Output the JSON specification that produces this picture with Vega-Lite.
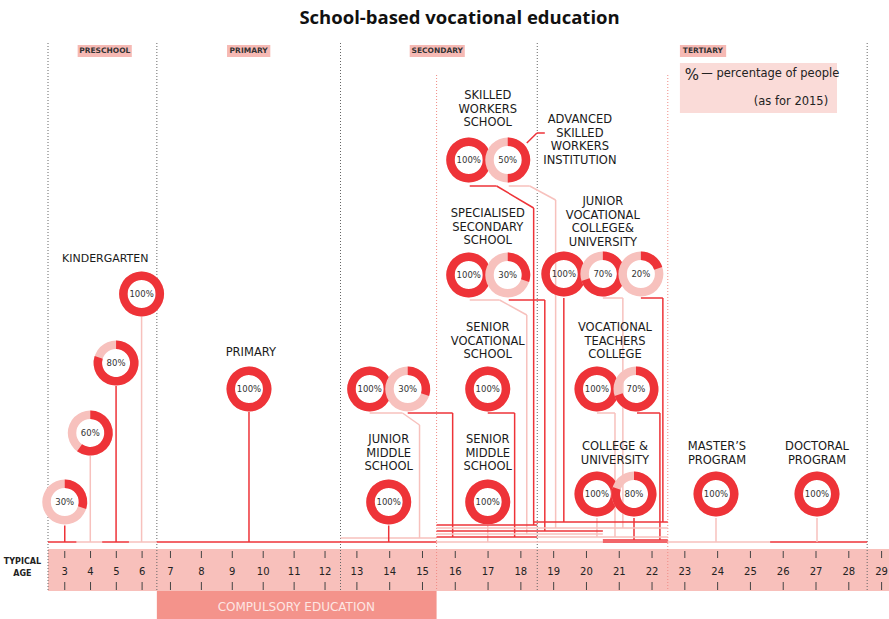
{
  "$schema": "https://vega.github.io/schema/vega-lite/v6.json",
  "width": 889,
  "height": 619,
  "autosize": "none",
  "padding": 0,
  "background": "white",
  "config": {"view": {"stroke": null}, "axis": {"disable": true}, "legend": {"disable": true}},
  "datasets": {
    "ages": [{"age":3},{"age":4},{"age":5},{"age":6},{"age":7},{"age":8},{"age":9},{"age":10},{"age":11},{"age":12},{"age":13},{"age":14},{"age":15},{"age":16},{"age":17},{"age":18},{"age":19},{"age":20},{"age":21},{"age":22},{"age":23},{"age":24},{"age":25},{"age":26},{"age":27},{"age":28},{"age":29}],
    "donuts": [
      {"name":"Kindergarten age 3","age":3.0,"lvl":8.0,"pink":100,"red":30,"lab":"30%"},
      {"name":"Kindergarten age 4","age":3.99,"lvl":21.8,"pink":100,"red":60,"lab":"60%"},
      {"name":"Kindergarten age 5","age":4.99,"lvl":35.8,"pink":100,"red":80,"lab":"80%"},
      {"name":"Kindergarten age 6","age":5.98,"lvl":49.6,"pink":100,"red":100,"lab":"100%"},
      {"name":"Primary","age":9.54,"lvl":30.6,"pink":100,"red":100,"lab":"100%"},
      {"name":"Junior secondary A","age":13.39,"lvl":30.6,"pink":100,"red":100,"lab":"100%"},
      {"name":"Junior secondary B","age":14.55,"lvl":30.6,"pink":100,"red":30,"lab":"30%"},
      {"name":"Junior middle school","age":13.97,"lvl":8.0,"pink":100,"red":100,"lab":"100%"},
      {"name":"Senior vocational school","age":16.99,"lvl":30.6,"pink":100,"red":100,"lab":"100%"},
      {"name":"Senior middle school","age":16.99,"lvl":8.0,"pink":100,"red":100,"lab":"100%"},
      {"name":"Skilled workers school","age":16.41,"lvl":76.4,"pink":100,"red":100,"lab":"100%"},
      {"name":"Advanced skilled workers institution","age":17.6,"lvl":76.4,"pink":100,"red":50,"lab":"50%"},
      {"name":"Specialised secondary school A","age":16.41,"lvl":53.4,"pink":100,"red":100,"lab":"100%"},
      {"name":"Specialised secondary school B","age":17.6,"lvl":53.4,"pink":100,"red":30,"lab":"30%"},
      {"name":"Junior vocational college A","age":19.31,"lvl":53.6,"pink":100,"red":100,"lab":"100%"},
      {"name":"Junior vocational college B","age":20.5,"lvl":53.6,"pink":100,"red":70,"lab":"70%"},
      {"name":"Junior vocational college C","age":21.66,"lvl":53.6,"pink":100,"red":20,"lab":"20%"},
      {"name":"Vocational teachers college A","age":20.32,"lvl":30.6,"pink":100,"red":100,"lab":"100%"},
      {"name":"Vocational teachers college B","age":21.51,"lvl":30.6,"pink":100,"red":70,"lab":"70%"},
      {"name":"College & university A","age":20.32,"lvl":9.6,"pink":100,"red":100,"lab":"100%"},
      {"name":"College & university B","age":21.45,"lvl":9.6,"pink":100,"red":80,"lab":"80%"},
      {"name":"Master's program","age":23.95,"lvl":9.6,"pink":100,"red":100,"lab":"100%"},
      {"name":"Doctoral program","age":27.03,"lvl":9.6,"pink":100,"red":100,"lab":"100%"}
    ],
    "seg": [
      {"a1":3.0,"v1":3.3,"a2":3.0,"v2":0,"k":"red"},
      {"a1":3.99,"v1":17.2,"a2":3.99,"v2":0,"k":"pink"},
      {"a1":4.99,"v1":31.2,"a2":4.99,"v2":0,"k":"red"},
      {"a1":5.98,"v1":45,"a2":5.98,"v2":0,"k":"pink"},
      {"a1":9.54,"v1":26,"a2":9.54,"v2":0,"k":"red"},
      {"a1":2.35,"v1":0,"a2":3.46,"v2":0,"k":"red"},
      {"a1":3.46,"v1":0,"a2":4.45,"v2":0,"k":"pink"},
      {"a1":4.45,"v1":0,"a2":5.49,"v2":0,"k":"red"},
      {"a1":5.49,"v1":0,"a2":6.56,"v2":0,"k":"pink"},
      {"a1":6.56,"v1":0,"a2":15.43,"v2":0,"k":"red"},
      {"a1":15.43,"v1":0,"a2":20.5,"v2":0,"k":"pink"},
      {"a1":20.5,"v1":0,"a2":22.48,"v2":0,"k":"red"},
      {"a1":22.48,"v1":0,"a2":25.6,"v2":0,"k":"pink"},
      {"a1":25.6,"v1":0,"a2":28.56,"v2":0,"k":"red"},
      {"a1":12.5,"v1":0.8,"a2":15.43,"v2":0.8,"k":"pink"},
      {"a1":13.97,"v1":3.3,"a2":13.97,"v2":0,"k":"red"},
      {"a1":13.39,"v1":25.8,"a2":14.39,"v2":25.8,"k":"pink"},
      {"a1":14.39,"v1":25.8,"a2":14.91,"v2":23.4,"k":"pink"},
      {"a1":14.91,"v1":23.4,"a2":14.91,"v2":0.8,"k":"pink"},
      {"a1":14.55,"v1":25.8,"a2":15.92,"v2":25.8,"k":"red"},
      {"a1":15.92,"v1":25.8,"a2":15.92,"v2":1.0,"k":"red"},
      {"a1":16.99,"v1":25.8,"a2":17.81,"v2":25.8,"k":"red"},
      {"a1":17.81,"v1":25.8,"a2":17.81,"v2":1.0,"k":"red"},
      {"a1":16.99,"v1":3.3,"a2":16.99,"v2":0,"k":"pink"},
      {"a1":16.44,"v1":71.2,"a2":17.26,"v2":71.2,"k":"red"},
      {"a1":17.26,"v1":71.2,"a2":18.39,"v2":66.8,"k":"red"},
      {"a1":18.39,"v1":66.8,"a2":18.39,"v2":3.4,"k":"red"},
      {"a1":17.63,"v1":71.2,"a2":18.27,"v2":71.2,"k":"pink"},
      {"a1":18.27,"v1":71.2,"a2":19.06,"v2":68.4,"k":"pink"},
      {"a1":19.06,"v1":68.4,"a2":19.06,"v2":2.8,"k":"pink"},
      {"a1":16.44,"v1":48.4,"a2":17.35,"v2":48.4,"k":"pink"},
      {"a1":17.35,"v1":48.4,"a2":18.18,"v2":45.4,"k":"pink"},
      {"a1":18.18,"v1":45.4,"a2":18.18,"v2":1.6,"k":"pink"},
      {"a1":17.63,"v1":48.4,"a2":18.73,"v2":48.4,"k":"red"},
      {"a1":18.73,"v1":48.4,"a2":18.73,"v2":2.2,"k":"red"},
      {"a1":19.31,"v1":48.8,"a2":19.31,"v2":4.0,"k":"red"},
      {"a1":20.5,"v1":48.8,"a2":21.11,"v2":48.8,"k":"pink"},
      {"a1":21.11,"v1":48.8,"a2":21.11,"v2":2.8,"k":"pink"},
      {"a1":21.66,"v1":48.8,"a2":22.33,"v2":48.8,"k":"red"},
      {"a1":22.33,"v1":48.8,"a2":22.33,"v2":4.0,"k":"red"},
      {"a1":20.32,"v1":25.8,"a2":20.87,"v2":25.8,"k":"pink"},
      {"a1":20.87,"v1":25.8,"a2":20.87,"v2":1.0,"k":"pink"},
      {"a1":21.54,"v1":25.8,"a2":22.24,"v2":25.8,"k":"red"},
      {"a1":22.24,"v1":25.8,"a2":22.24,"v2":0.4,"k":"red"},
      {"a1":20.32,"v1":4.8,"a2":20.32,"v2":1.0,"k":"pink"},
      {"a1":21.45,"v1":4.8,"a2":21.45,"v2":0.4,"k":"red"},
      {"a1":23.95,"v1":4.8,"a2":23.95,"v2":0,"k":"pink"},
      {"a1":27.03,"v1":4.8,"a2":27.03,"v2":0,"k":"pink"},
      {"a1":18.39,"v1":4.0,"a2":22.48,"v2":4.0,"k":"red"},
      {"a1":15.43,"v1":3.4,"a2":18.5,"v2":3.4,"k":"red"},
      {"a1":15.43,"v1":2.8,"a2":22.48,"v2":2.8,"k":"pink"},
      {"a1":15.43,"v1":2.2,"a2":20.5,"v2":2.2,"k":"red"},
      {"a1":15.43,"v1":1.6,"a2":20.5,"v2":1.6,"k":"pink"},
      {"a1":15.43,"v1":1.0,"a2":18.5,"v2":1.0,"k":"red"},
      {"a1":18.5,"v1":1.0,"a2":22.48,"v2":1.0,"k":"pink"},
      {"a1":20.5,"v1":0.4,"a2":22.48,"v2":0.4,"k":"red"},
      {"a1":18.73,"v1":81.8,"a2":18.49,"v2":81.8,"k":"red"},
      {"a1":18.49,"v1":81.8,"a2":18.18,"v2":79.8,"k":"red"}
    ]
  },
  "layer": [
    {
      "data": {"values": [{"a1":2.35,"a2":30,"v1":-1.4,"v2":-9.8}]},
      "mark": {"type":"rect","color":"#f8c0bb"},
      "encoding": {
        "x": {"field":"a1","type":"quantitative","scale":{"type":"linear","domain":[2.35,6.5,12.5,29.5],"range":[48,155,340.5,898],"nice":false,"zero":false}},
        "x2": {"field":"a2"},
        "y": {"field":"v1","type":"quantitative","scale":{"domain":[-15.4,108.4],"nice":false,"zero":false}},
        "y2": {"field":"v2"}
      }
    },
    {
      "data": {"values": [{"a1":6.56,"a2":15.43,"v1":-9.8,"v2":-15.4}]},
      "mark": {"type":"rect","color":"#f4938b"},
      "encoding": {"x":{"field":"a1","type":"quantitative"},"x2":{"field":"a2"},"y":{"field":"v1","type":"quantitative"},"y2":{"field":"v2"}}
    },
    {
      "data": {"values": [{"a1":3.5,"a2":5.6,"v1":99.4,"v2":97},{"a1":8.83,"a2":10.23,"v1":99.4,"v2":97},{"a1":14.61,"a2":16.29,"v1":99.4,"v2":97},{"a1":22.85,"a2":24.26,"v1":99.4,"v2":97}]},
      "mark": {"type":"rect","color":"#f6b9b4"},
      "encoding": {"x":{"field":"a1","type":"quantitative"},"x2":{"field":"a2"},"y":{"field":"v1","type":"quantitative"},"y2":{"field":"v2"}}
    },
    {
      "data": {"values": [{"a1":22.85,"a2":27.64,"v1":95.8,"v2":85.8}]},
      "mark": {"type":"rect","color":"#fadbd8"},
      "encoding": {"x":{"field":"a1","type":"quantitative"},"x2":{"field":"a2"},"y":{"field":"v1","type":"quantitative"},"y2":{"field":"v2"}}
    },
    {
      "data": {"values": [{"a":2.35},{"a":6.56},{"a":12.5},{"a":18.5},{"a":28.56}]},
      "mark": {"type":"rule","color":"#666666","strokeDash":[1,2],"strokeWidth":1},
      "encoding": {"x":{"field":"a","type":"quantitative"},"y":{"datum":99.8},"y2":{"datum":-9.8}}
    },
    {
      "data": {"values": [{"a":15.43},{"a":22.48}]},
      "mark": {"type":"rule","color":"#f08a84","strokeDash":[1,2],"strokeWidth":1},
      "encoding": {"x":{"field":"a","type":"quantitative"},"y":{"datum":93.4},"y2":{"datum":-9.8}}
    },
    {
      "data": {"name":"ages"},
      "mark": {"type":"rule","color":"#444444","strokeWidth":1},
      "encoding": {"x":{"field":"age","type":"quantitative"},"y":{"datum":-1.8},"y2":{"datum":-3.2}}
    },
    {
      "data": {"name":"ages"},
      "mark": {"type":"rule","color":"#444444","strokeWidth":1},
      "encoding": {"x":{"field":"age","type":"quantitative"},"y":{"datum":-8.0},"y2":{"datum":-9.6}}
    },
    {
      "data": {"name":"ages"},
      "mark": {"type":"text","font":"DejaVu Sans","fontSize":10,"color":"#222222","baseline":"middle","align":"center"},
      "encoding": {"x":{"field":"age","type":"quantitative"},"y":{"datum":-6},"text":{"field":"age","type":"quantitative"}}
    },
    {
      "data": {"name":"seg"},
      "mark": {"type":"rule","strokeWidth":1.5},
      "encoding": {
        "x":{"field":"a1","type":"quantitative"},"x2":{"field":"a2"},
        "y":{"field":"v1","type":"quantitative"},"y2":{"field":"v2"},
        "color":{"field":"k","type":"nominal","scale":{"domain":["red","pink"],"range":["#ee3338","#f7c1bd"]}}
      }
    },
    {
      "data": {"name":"donuts"},
      "transform": [{"fold":["pink","red"],"as":["k","val"]}],
      "mark": {"type":"arc","radius":22.5,"radius2":14},
      "encoding": {
        "x":{"field":"age","type":"quantitative"},
        "y":{"field":"lvl","type":"quantitative"},
        "theta":{"field":"val","type":"quantitative","stack":null,"scale":{"domain":[0,100],"range":[0,6.2832]}},
        "color":{"field":"k","type":"nominal"}
      }
    },
    {
      "data": {"name":"donuts"},
      "mark": {"type":"text","font":"DejaVu Sans","fontSize":8.5,"color":"#333333","baseline":"middle","align":"center"},
      "encoding": {"x":{"field":"age","type":"quantitative"},"y":{"field":"lvl","type":"quantitative"},"text":{"field":"lab"}}
    },
    {
      "data": {"values": [
        {"t":"PRIMARY","a":9.6,"v":39},
        {"t":"JUNIOR\nMIDDLE\nSCHOOL","a":13.97,"v":21.6},
        {"t":"SENIOR\nMIDDLE\nSCHOOL","a":16.99,"v":21.6},
        {"t":"SENIOR\nVOCATIONAL\nSCHOOL","a":16.99,"v":44},
        {"t":"SPECIALISED\nSECONDARY\nSCHOOL","a":16.99,"v":66.8},
        {"t":"SKILLED\nWORKERS\nSCHOOL","a":16.99,"v":90.4},
        {"t":"ADVANCED\nSKILLED\nWORKERS\nINSTITUTION","a":19.8,"v":85.6},
        {"t":"JUNIOR\nVOCATIONAL\nCOLLEGE&\nUNIVERSITY","a":20.5,"v":69.2},
        {"t":"VOCATIONAL\nTEACHERS\nCOLLEGE","a":20.87,"v":44},
        {"t":"COLLEGE &\nUNIVERSITY","a":20.87,"v":20.2},
        {"t":"MASTER’S\nPROGRAM","a":23.98,"v":20.2},
        {"t":"DOCTORAL\nPROGRAM","a":27.03,"v":20.2}
      ]},
      "mark": {"type":"text","font":"DejaVu Sans","fontSize":11.5,"color":"#1a1a1a","baseline":"top","align":"center","lineBreak":"\n","lineHeight":13.5},
      "encoding": {"x":{"field":"a","type":"quantitative"},"y":{"field":"v","type":"quantitative"},"text":{"field":"t"}}
    },
    {
      "data": {"values": [{"t":"KINDERGARTEN","a":4.57,"v":57.8}]},
      "mark": {"type":"text","font":"DejaVu Sans","fontSize":11,"color":"#1a1a1a","baseline":"top","align":"center"},
      "encoding": {"x":{"field":"a","type":"quantitative"},"y":{"field":"v","type":"quantitative"},"text":{"field":"t"}}
    },
    {
      "data": {"values": [{"t":"PRESCHOOL","a":4.55},{"t":"PRIMARY","a":9.53},{"t":"SECONDARY","a":15.45},{"t":"TERTIARY","a":23.55}]},
      "mark": {"type":"text","font":"DejaVu Sans","fontSize":7.5,"fontWeight":"bold","color":"#333333","baseline":"middle","align":"center"},
      "encoding": {"x":{"field":"a","type":"quantitative"},"y":{"datum":98.2},"text":{"field":"t"}}
    },
    {
      "data": {"values": [{"t":"School-based vocational education","a":16.13,"v":104.8}]},
      "mark": {"type":"text","font":"Open Sans","fontSize":18.5,"fontWeight":"bold","color":"#111111","baseline":"middle","align":"center"},
      "encoding": {"x":{"field":"a","type":"quantitative"},"y":{"field":"v","type":"quantitative"},"text":{"field":"t"}}
    },
    {
      "data": {"values": [{"t":"%","a":23.0,"v":93.4}]},
      "mark": {"type":"text","font":"DejaVu Sans","fontSize":15,"color":"#222222","baseline":"middle","align":"left"},
      "encoding": {"x":{"field":"a","type":"quantitative"},"y":{"field":"v","type":"quantitative"},"text":{"field":"t"}}
    },
    {
      "data": {"values": [{"t":"— percentage of people","a":23.5,"v":93.6}]},
      "mark": {"type":"text","font":"DejaVu Sans","fontSize":11.5,"color":"#222222","baseline":"middle","align":"left"},
      "encoding": {"x":{"field":"a","type":"quantitative"},"y":{"field":"v","type":"quantitative"},"text":{"field":"t"}}
    },
    {
      "data": {"values": [{"t":"(as for 2015)","a":27.37,"v":88}]},
      "mark": {"type":"text","font":"DejaVu Sans","fontSize":11.5,"color":"#222222","baseline":"middle","align":"right"},
      "encoding": {"x":{"field":"a","type":"quantitative"},"y":{"field":"v","type":"quantitative"},"text":{"field":"t"}}
    },
    {
      "data": {"values": [{"t":"COMPULSORY EDUCATION","a":11.07,"v":-13}]},
      "mark": {"type":"text","font":"DejaVu Sans","fontSize":12,"color":"#fde6e3","baseline":"middle","align":"center"},
      "encoding": {"x":{"field":"a","type":"quantitative"},"y":{"field":"v","type":"quantitative"},"text":{"field":"t"}}
    },
    {
      "data": {"values": [{"t":"TYPICAL\nAGE","a":1.36,"v":-3.2}]},
      "mark": {"type":"text","font":"DejaVu Sans","fontSize":8,"fontWeight":"bold","color":"#222222","baseline":"top","align":"center","lineBreak":"\n","lineHeight":12},
      "encoding": {"x":{"field":"a","type":"quantitative"},"y":{"field":"v","type":"quantitative"},"text":{"field":"t"}}
    }
  ]
}
